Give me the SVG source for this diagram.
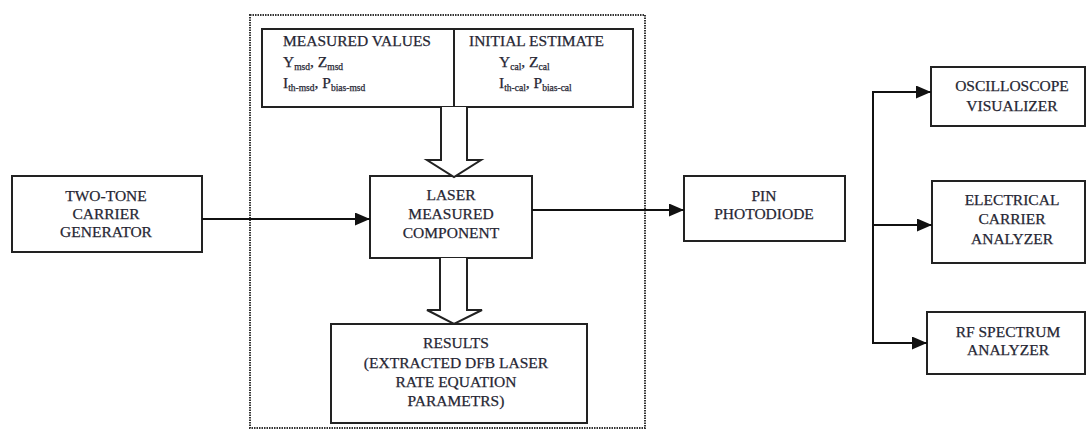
<svg xmlns="http://www.w3.org/2000/svg" width="1086" height="431" viewBox="0 0 1086 431">
<defs>
<marker id="ah" markerUnits="userSpaceOnUse" markerWidth="15" markerHeight="13" refX="15" refY="6.5" orient="auto">
<path d="M0,0 L15,6.5 L0,13 z" fill="#111"/>
</marker>
<style>
.box{fill:#fff;stroke:#222;stroke-width:2}
.t{font-family:"Liberation Serif","Times New Roman",serif;font-size:15.5px;fill:#262633;stroke:#262633;stroke-width:0.25;text-anchor:middle}
.l{text-anchor:start}
.sub{font-size:9.5px}
.ln{fill:none;stroke:#111;stroke-width:2}
.hollow{fill:#fff;stroke:#222;stroke-width:2;stroke-linejoin:miter}
</style>
</defs>
<rect width="1086" height="431" fill="#fff"/>
<rect x="250" y="15" width="395" height="413" fill="none" stroke="#333" stroke-width="2" stroke-dasharray="1.5 1"/>

<g id="inputs">
<rect class="box" x="262" y="29" width="371" height="78"/>
<line x1="454" y1="29" x2="454" y2="107" stroke="#222" stroke-width="2"/>
<text class="t l" x="283" y="46">MEASURED VALUES</text>
<text class="t l" x="283" y="67">Y<tspan class="sub" dy="3">msd</tspan><tspan dy="-3">, Z</tspan><tspan class="sub" dy="3">msd</tspan></text>
<text class="t l" x="283" y="88">I<tspan class="sub" dy="3">th-msd</tspan><tspan dy="-3">, P</tspan><tspan class="sub" dy="3">bias-msd</tspan></text>
<text class="t l" x="469" y="46">INITIAL ESTIMATE</text>
<text class="t l" x="499" y="67">Y<tspan class="sub" dy="3">cal</tspan><tspan dy="-3">, Z</tspan><tspan class="sub" dy="3">cal</tspan></text>
<text class="t l" x="499" y="88">I<tspan class="sub" dy="3">th-cal</tspan><tspan dy="-3">, P</tspan><tspan class="sub" dy="3">bias-cal</tspan></text>
</g>

<g id="twotone">
<rect class="box" x="12" y="176" width="190" height="76"/>
<text class="t" x="106" y="201">TWO-TONE</text>
<text class="t" x="106" y="219">CARRIER</text>
<text class="t" x="106" y="237">GENERATOR</text>
</g>

<g id="laser">
<rect class="box" x="370" y="176" width="162" height="82"/>
<text class="t" x="451" y="200">LASER</text>
<text class="t" x="451" y="219">MEASURED</text>
<text class="t" x="451" y="238">COMPONENT</text>
</g>

<g id="results">
<rect class="box" x="331" y="324" width="256" height="99"/>
<text class="t" x="456" y="348">RESULTS</text>
<text class="t" x="456" y="368">(EXTRACTED DFB LASER</text>
<text class="t" x="456" y="387">RATE EQUATION</text>
<text class="t" x="456" y="406">PARAMETRS)</text>
</g>

<g id="pin">
<rect class="box" x="684" y="176" width="161" height="65"/>
<text class="t" x="764" y="201">PIN</text>
<text class="t" x="764" y="219">PHOTODIODE</text>
</g>

<g id="oscilloscope">
<rect class="box" x="931" y="67" width="154" height="59"/>
<text class="t" x="1012" y="91">OSCILLOSCOPE</text>
<text class="t" x="1012" y="111">VISUALIZER</text>
</g>

<g id="electrical">
<rect class="box" x="932" y="181" width="153" height="82"/>
<text class="t" x="1012" y="205">ELECTRICAL</text>
<text class="t" x="1012" y="224">CARRIER</text>
<text class="t" x="1012" y="244">ANALYZER</text>
</g>

<g id="rfspectrum">
<rect class="box" x="927" y="312" width="158" height="62"/>
<text class="t" x="1008" y="337">RF SPECTRUM</text>
<text class="t" x="1008" y="355">ANALYZER</text>
</g>

<g id="connectors">
<path class="hollow" d="M441,107 V160 H427 L454,177 L481,160 H467 V107"/>
<path class="hollow" d="M440,258 V310 H427 L454,324 L482,310 H467 V258"/>
<line class="ln" x1="202" y1="219" x2="370" y2="219" marker-end="url(#ah)"/>
<line class="ln" x1="532" y1="210" x2="684" y2="210" marker-end="url(#ah)"/>
<line class="ln" x1="873" y1="92" x2="873" y2="344"/>
<line class="ln" x1="872" y1="92" x2="931" y2="92" marker-end="url(#ah)"/>
<line class="ln" x1="872" y1="225" x2="932" y2="225" marker-end="url(#ah)"/>
<line class="ln" x1="872" y1="343" x2="927" y2="343" marker-end="url(#ah)"/>
</g>
</svg>
